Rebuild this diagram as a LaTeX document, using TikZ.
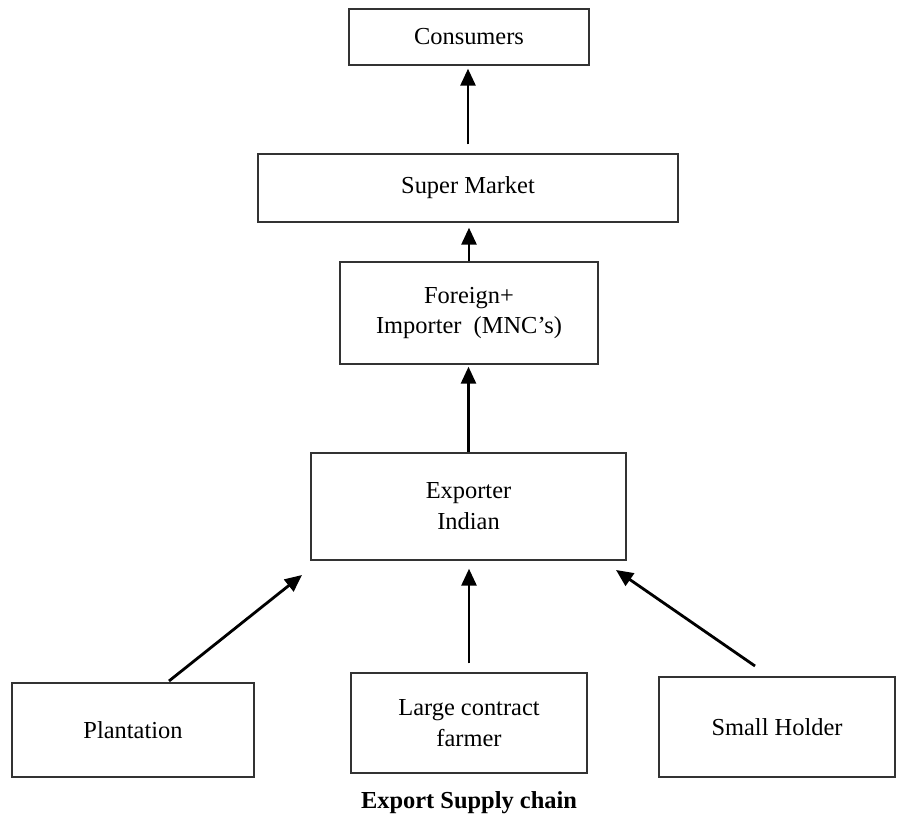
\documentclass[tikz,border=0pt]{standalone}
\usepackage{fontspec}
\setmainfont{Liberation Serif}
\usepackage{tikz}
\usetikzlibrary{positioning,arrows.meta,calc}

\begin{document}
\begin{tikzpicture}[
    box/.style = {draw=black!80, line width=0.8pt, rectangle, align=center, inner sep=0pt,
                  font=\fontsize{13.9}{17.6}\selectfont},
    flow/.style = {-{Triangle[length=0.34cm,width=0.3cm]}, line width=1.6pt}
    ]
            \useasboundingbox (0,0) rectangle (17.96,-16.4);

            \node[box, minimum width = 4.8cm, minimum height = 1.12cm] (cons) at (9.38, -0.74) {Consumers};
            \node[box, minimum width = 8.4cm, minimum height = 1.36cm] (market) at (9.36, -3.76) {Super Market};
            \node[box, minimum width = 5.16cm, minimum height = 2.04cm] (importer) at (9.38, -6.26) {Foreign+\\Importer~~(MNC’s)};
            \node[box, minimum width = 6.3cm, minimum height = 2.14cm] (exporter) at (9.37, -10.13) {Exporter\\Indian};

            \node[box, minimum width = 4.84cm, minimum height = 1.88cm] (plant) at (2.66, -14.6) {Plantation};
            \node[box, minimum width = 4.72cm, minimum height = 2cm] (large) at (9.38, -14.46) {Large contract\\farmer};
            \node[box, minimum width = 4.72cm, minimum height = 2cm] (small) at (15.54, -14.54) {Small Holder};

            \node[font=\fontsize{13.9}{17.6}\selectfont\bfseries] (title) at (9.38, -16.06) {Export Supply chain};

            % free ends of the slanted arrows
            \coordinate (plantout) at (3.38, -13.62);
            \coordinate (plantin) at (6.04, -11.5);
            \coordinate (smallout) at (15.1, -13.32);
            \coordinate (smallin) at (12.32, -11.4);

            \draw[flow, shorten <= 0.18cm, shorten >= 0.06cm] (market.north) -- (market.north |- cons.south);
            \draw[flow, shorten >= 0.1cm] (importer.north) -- (importer.north |- market.south);
            \draw[flow, shorten >= 0.04cm] (exporter.north) -- (exporter.north |- importer.south);

            \draw[flow] (plantout) -- (plantin);
            \draw[flow, shorten <= 0.18cm, shorten >= 0.16cm] (large.north) -- (large.north |- exporter.south);
            \draw[flow] (smallout) -- (smallin);
        \end{tikzpicture}
\end{document}
